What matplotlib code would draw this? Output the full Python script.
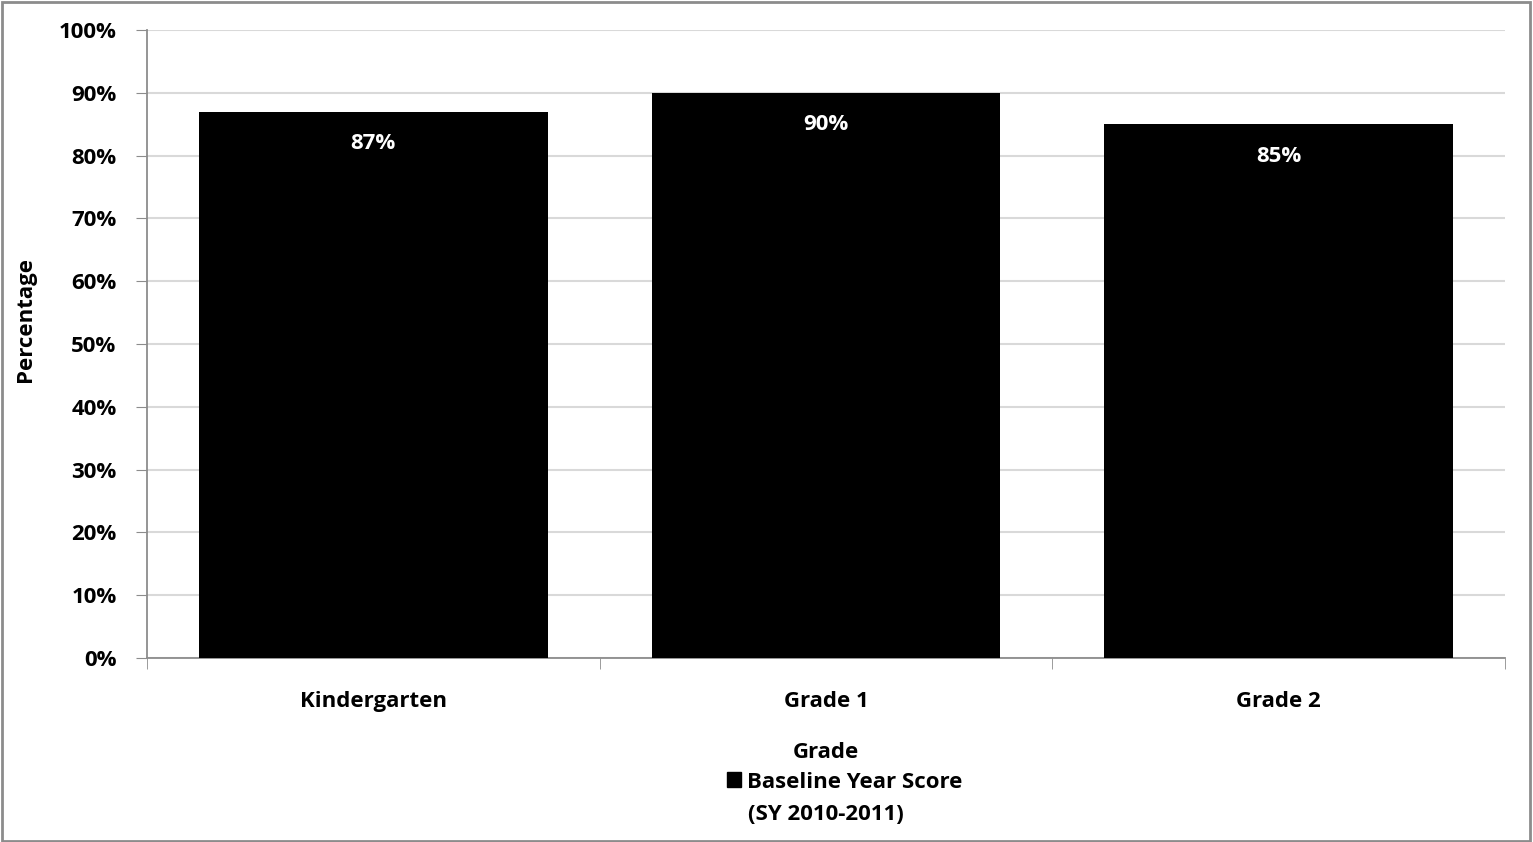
import matplotlib.pyplot as plt
from matplotlib.patches import Rectangle, Patch
import numpy as np

plt.rcParams['font.family'] = ['Open Sans', 'DejaVu Sans']
plt.rcParams['font.weight'] = 'bold'

# Data
grades = ['Kindergarten', 'Grade 1', 'Grade 2']
baseline = [87, 90, 85]
series_name = 'Baseline Year Score'
series_note = '(SY 2010-2011)'

FS = 16

fig = plt.figure(figsize=(15.33, 8.42), dpi=100)
ax = fig.add_axes([147/1533, 1 - 658/842, (1505-147)/1533, (658-30)/842])

x = np.arange(len(grades))
bars = ax.bar(x, baseline, width=0.77, color='black', zorder=3)

ax.set_xlim(-0.5, len(grades) - 0.5)
ax.set_ylim(0, 100)
ax.set_yticks(np.arange(0, 101, 10))
ax.set_yticklabels([f'{v}%' for v in range(0, 101, 10)], fontsize=FS, fontweight='bold')
ax.set_xticks(x)
ax.set_xticklabels(grades, fontsize=FS, fontweight='bold')
ax.tick_params(axis='x', length=0, pad=24)
ax.set_xticks(np.arange(-0.5, len(grades)), minor=True)
ax.tick_params(axis='x', which='minor', length=8, color='#8c8c8c', direction='out')
ax.tick_params(axis='y', length=8, color='#8c8c8c', direction='out', pad=14)

ax.grid(axis='y', color='#d9d9d9', linewidth=1.5, zorder=0)
for s in ['top', 'right']:
    ax.spines[s].set_visible(False)
for s in ['left', 'bottom']:
    ax.spines[s].set_color('#8c8c8c')
    ax.spines[s].set_linewidth(1.3)

ax.set_ylabel('Percentage', fontsize=FS, fontweight='bold')
ax.yaxis.set_label_coords((25 - 147)/1358, (658 - 320)/628)
ax.yaxis.label.set_va('center')
ax.set_xlabel('Grade', fontsize=FS, fontweight='bold')
ax.xaxis.set_label_coords(0.5, (658 - 753)/628)
ax.xaxis.label.set_va('center')

for bar, v in zip(bars, baseline):
    ax.annotate(f'{v}%', xy=(bar.get_x() + bar.get_width()/2, v),
                xytext=(0, -32), textcoords='offset pixels',
                ha='center', va='center', color='white', fontsize=FS, fontweight='bold')

leg = fig.legend(handles=[Patch(facecolor='black', edgecolor='black')], labels=[series_name],
                 loc='center left', bbox_to_anchor=(727/1533, 1 - 782/842), frameon=False,
                 fontsize=FS, handlelength=0.65, handleheight=0.65, handletextpad=0.25,
                 borderpad=0, borderaxespad=0)
fig.text(748/1533, 1 - 815/842, series_note, fontsize=FS, fontweight='bold', va='center', ha='left')

fig.patches.append(Rectangle((0.001, 0.001), 0.997, 0.997, transform=fig.transFigure,
                             fill=False, edgecolor='#8c8c8c', linewidth=2))

fig.savefig('out.png', dpi=100)
